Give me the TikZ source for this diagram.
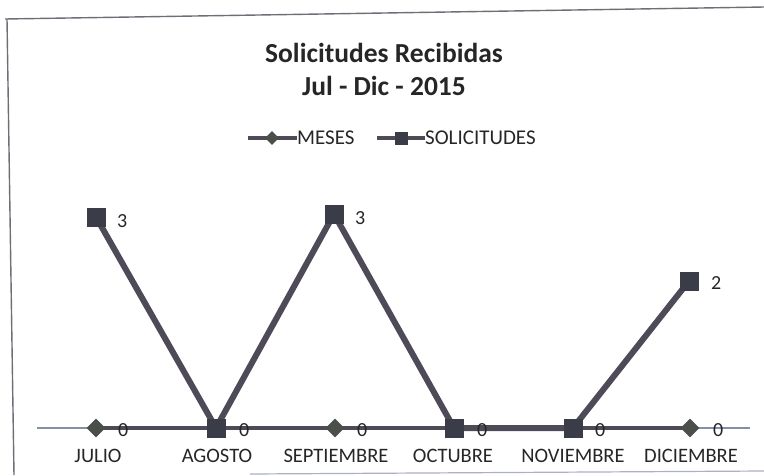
\documentclass[tikz,border=0pt]{standalone}
\usepackage{fontspec}
\setmainfont{Carlito}
\usetikzlibrary{shapes.geometric}
\definecolor{linegray}{HTML}{4E4A58}
\definecolor{sqgray}{HTML}{3A3D48}
\definecolor{dmgray}{HTML}{4A5049}
\definecolor{axisblue}{HTML}{8590A6}
\definecolor{framegray}{HTML}{6E6E78}
\begin{document}
\begin{tikzpicture}[x=1pt,y=-1pt,
    serie/.style={line width=6pt,linegray},
    cuadro/.style={rectangle,fill=sqgray,minimum size=19pt,inner sep=0pt},
    rombo/.style={diamond,fill=dmgray,minimum size=19pt,inner sep=0pt},
    valor/.style={font=\fontsize{20}{24}\selectfont,text=black!85,anchor=west,inner sep=0pt},
    mes/.style={font=\fontsize{20.5}{24}\selectfont,text=black!85}]
  \useasboundingbox (0,0) rectangle (764,475);
  % marco
  \draw [framegray,line width=1.4pt] (5,19) -- (764,7);
  \draw [framegray,line width=1.4pt] (7,19) -- (14,475);
  \draw [axisblue!70,line width=1.2pt] (250,474) -- (764,471);
  % titulo
  \node [font=\bfseries\fontsize{27.5}{33}\selectfont,text=black!85,align=center] (titulo) at (384,69) {Solicitudes Recibidas\\Jul - Dic - 2015};
  % leyenda
  \coordinate (l1a) at (248,138);
  \coordinate (l1b) at (297,138);
  \coordinate (l2a) at (377,138);
  \coordinate (l2b) at (425,138);
  \draw [line width=4pt,linegray] (l1a) -- (l1b);
  \draw [line width=4pt,linegray] (l2a) -- (l2b);
  \node [rombo,minimum size=14pt] (lrombo) at (272,138) {};
  \node [cuadro,minimum size=13pt] (lcuadro) at (401,138) {};
  \node [anchor=west,inner sep=0pt,font=\fontsize{21}{25}\selectfont,text=black!85] (lmeses) at (l1b) {MESES};
  \node [anchor=west,inner sep=0pt,font=\fontsize{21}{25}\selectfont,text=black!85] (lsolic) at (l2b) {SOLICITUDES};
  % eje
  \coordinate (e0) at (37,428);
  \coordinate (e1) at (750,428);
  \draw [axisblue,line width=1.5pt] (e0) -- (e1);
  % serie meses
  \draw [line width=4.5pt,linegray] (96,428) -- (690,428);
  \node [rombo] (m1) at (96,428) {};
  \node [rombo] (m3) at (335,428) {};
  \node [rombo] (m6) at (690,428) {};
  % serie solicitudes
  \node [cuadro] (s1) at (96,217) {};
  \node [cuadro] (s2) at (216,428) {};
  \node [cuadro] (s3) at (334,214) {};
  \node [cuadro] (s4) at (454,428) {};
  \node [cuadro] (s5) at (573,428) {};
  \node [cuadro] (s6) at (689,281) {};
  \draw [serie] (s1.center) -- (s2.center) -- (s3.center) -- (s4.center) -- (s5.center) -- (s6.center);
  \node [cuadro] at (s1) {};
  \node [cuadro] at (s2) {};
  \node [cuadro] at (s3) {};
  \node [cuadro] at (s4) {};
  \node [cuadro] at (s5) {};
  \node [cuadro] at (s6) {};
  % etiquetas de datos
  \node [valor] at (117,221) {3};
  \node [valor] at (355,218) {3};
  \node [valor] at (711,283) {2};
  \node [valor] at (118,430) {0};
  \node [valor] at (239,430) {0};
  \node [valor] at (357,430) {0};
  \node [valor] at (477,430) {0};
  \node [valor] at (595,430) {0};
  \node [valor] at (713,430) {0};
  % meses
  \node [mes] (c1) at (98,456) {JULIO};
  \node [mes] (c2) at (217,456) {AGOSTO};
  \node [mes] (c3) at (336,456) {SEPTIEMBRE};
  \node [mes] (c4) at (453,456) {OCTUBRE};
  \node [mes] (c5) at (573,456) {NOVIEMBRE};
  \node [mes] (c6) at (691,456) {DICIEMBRE};
\end{tikzpicture}
\end{document}
